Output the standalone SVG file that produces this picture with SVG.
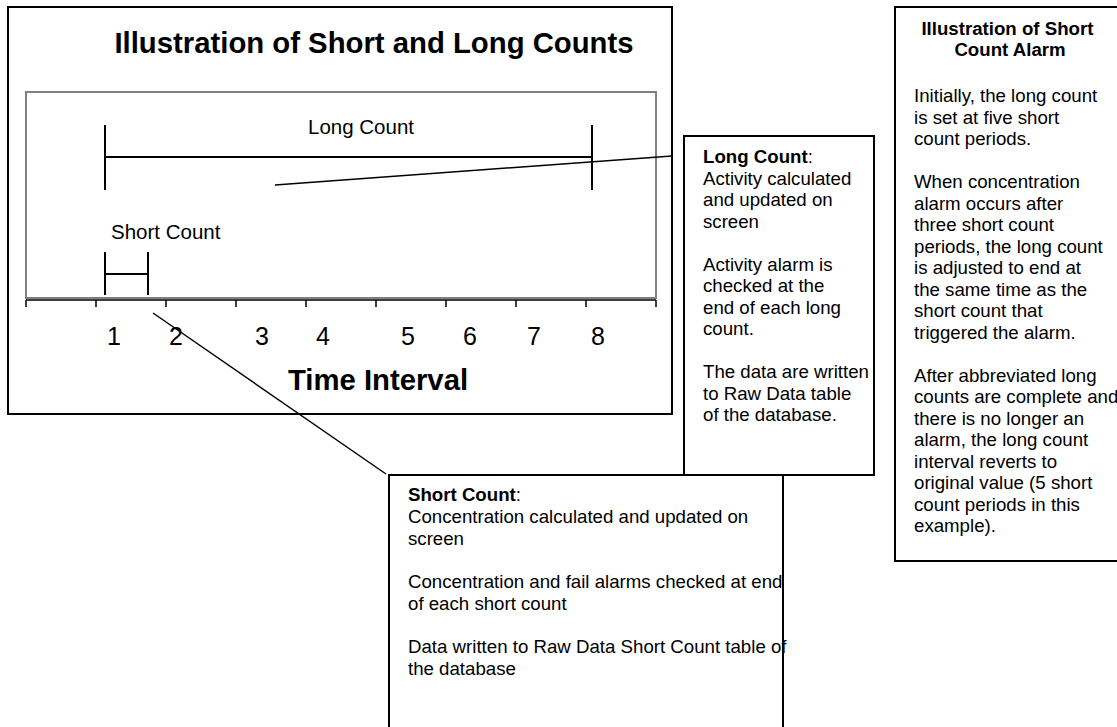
<svg xmlns="http://www.w3.org/2000/svg" width="1117" height="727" viewBox="0 0 1117 727">
<style>
.frame{fill:#fff;stroke:#000;stroke-width:2}
.inner{fill:none;stroke:#808080;stroke-width:2}
.ln{stroke:#000;stroke-width:2;fill:none}
.thin{stroke:#000;stroke-width:1.5;fill:none}
text{font-family:"Liberation Sans",Arial,sans-serif;fill:#000}
.b{font-weight:bold}
.lbl{font-size:20.5px}
.num{font-size:25px}
.body{font-size:18.67px}
</style>
<rect width="1117" height="727" fill="#fff"/>
<g id="main-chart">
<rect class="frame" x="8" y="7" width="664" height="407"/>
<text class="b" x="374" y="53" font-size="29.3" text-anchor="middle">Illustration of Short and Long Counts</text>
<rect class="inner" x="26" y="92" width="630" height="206"/>
<path class="thin" d="M26 300H656M26 300v7M96 300v7M166 300v7M236 300v7M306 300v7M376 300v7M446 300v7M516 300v7M586 300v7M656 300v7"/>
<g id="long-count-bar">
<path class="ln" d="M105 125V190M592 125V190M105 157H592"/>
<text class="lbl" x="361" y="134" text-anchor="middle">Long Count</text>
</g>
<g id="short-count-bar">
<path class="ln" d="M105 252V295M148 252V295M105 274H148"/>
<text class="lbl" x="111" y="239">Short Count</text>
</g>
<g class="num" text-anchor="middle">
<text x="114" y="345">1</text>
<text x="176" y="345">2</text>
<text x="262" y="345">3</text>
<text x="323" y="345">4</text>
<text x="408" y="345">5</text>
<text x="470" y="345">6</text>
<text x="534" y="345">7</text>
<text x="598" y="345">8</text>
</g>
<text class="b" x="378" y="390" font-size="29.3" text-anchor="middle">Time Interval</text>
</g>
<g id="connectors">
<path class="thin" d="M275 185L672 156"/>
<path class="thin" d="M153 313L386 474"/>
</g>
<g id="long-count-box">
<rect class="frame" x="684" y="136" width="190" height="339"/>
<text class="body">
<tspan x="703" y="163"><tspan class="b">Long Count</tspan>:</tspan>
<tspan x="703" y="184.5">Activity calculated</tspan>
<tspan x="703" y="206">and updated on</tspan>
<tspan x="703" y="227.5">screen</tspan>
<tspan x="703" y="270.5">Activity alarm is</tspan>
<tspan x="703" y="292">checked at the</tspan>
<tspan x="703" y="313.5">end of each long</tspan>
<tspan x="703" y="335">count.</tspan>
<tspan x="703" y="378">The data are written</tspan>
<tspan x="703" y="399.5">to Raw Data table</tspan>
<tspan x="703" y="421">of the database.</tspan>
</text>
</g>
<g id="short-count-box">
<rect class="frame" x="389" y="475" width="394" height="262"/>
<text class="body">
<tspan x="408" y="501"><tspan class="b">Short Count</tspan>:</tspan>
<tspan x="408" y="523">Concentration calculated and updated on</tspan>
<tspan x="408" y="545">screen</tspan>
<tspan x="408" y="588">Concentration and fail alarms checked at end</tspan>
<tspan x="408" y="610">of each short count</tspan>
<tspan x="408" y="653">Data written to Raw Data Short Count table of</tspan>
<tspan x="408" y="675">the database</tspan>
</text>
</g>
<g id="alarm-box">
<rect class="frame" x="895" y="7" width="240" height="554"/>
<text class="body b" text-anchor="middle">
<tspan x="1010" y="35">Illustration of Short</tspan>
<tspan x="1010" y="56">Count Alarm</tspan>
</text>
<text class="body">
<tspan x="914" y="102">Initially, the long count</tspan>
<tspan x="914" y="123.5">is set at five short</tspan>
<tspan x="914" y="145">count periods.</tspan>
<tspan x="914" y="188">When concentration</tspan>
<tspan x="914" y="209.5">alarm occurs after</tspan>
<tspan x="914" y="231">three short count</tspan>
<tspan x="914" y="252.5">periods, the long count</tspan>
<tspan x="914" y="274">is adjusted to end at</tspan>
<tspan x="914" y="295.5">the same time as the</tspan>
<tspan x="914" y="317">short count that</tspan>
<tspan x="914" y="338.5">triggered the alarm.</tspan>
<tspan x="914" y="381.5">After abbreviated long</tspan>
<tspan x="914" y="403">counts are complete and</tspan>
<tspan x="914" y="424.5">there is no longer an</tspan>
<tspan x="914" y="446">alarm, the long count</tspan>
<tspan x="914" y="467.5">interval reverts to</tspan>
<tspan x="914" y="489">original value (5 short</tspan>
<tspan x="914" y="510.5">count periods in this</tspan>
<tspan x="914" y="532">example).</tspan>
</text>
</g>
</svg>
